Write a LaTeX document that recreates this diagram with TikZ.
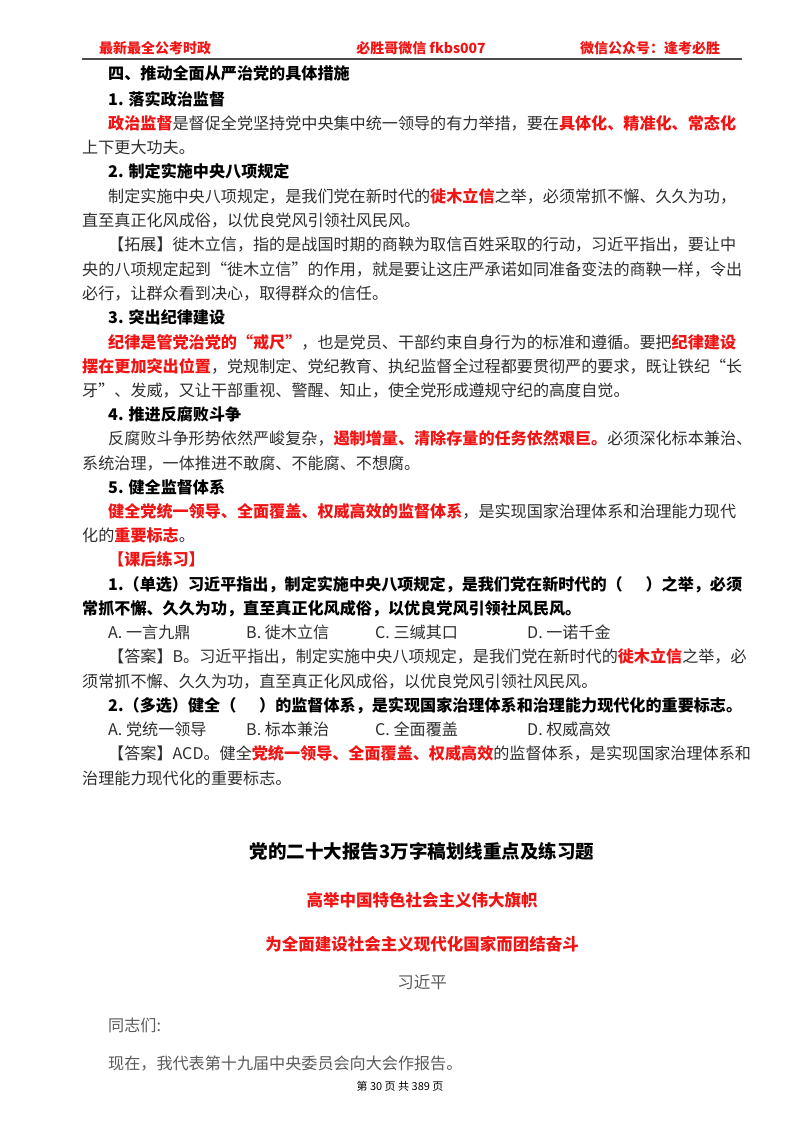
\documentclass[tikz,border=0pt]{standalone}
\usepackage{fontspec}
\setmainfont{Noto Sans CJK SC}
\XeTeXlinebreaklocale "zh"
\XeTeXlinebreakskip=0pt plus 6pt minus 0.3pt
\definecolor{rd}{RGB}{240,20,20}
\definecolor{bodyc}{RGB}{45,45,45}
\definecolor{lightc}{RGB}{90,90,90}
\newcount\nn
\newcommand\R[1]{{\color{rd}\bfseries #1}}
\newcommand\TL[3]{\global\advance\nn by 1 \node[txt] (t\the\nn) at (#1,-#2) {#3};}
\newcommand\TJ[4]{\global\advance\nn by 1 \node[txt] (t\the\nn) at (#1,-#2) {\hbox to #3pt{#4}};}
\begin{document}
\begin{tikzpicture}[x=1pt,y=1pt,
  txt/.style={anchor=base west,inner sep=0pt,font=\fontsize{16.1}{20}\selectfont,text=bodyc},
  ctr/.style={anchor=base,inner sep=0pt}]
\useasboundingbox (0,0) rectangle (800,-1132);
% header
\node[ctr,font=\fontsize{14}{16}\selectfont\bfseries,text=rd] (h1) at (155,-53) {最新最全公考时政};
\node[ctr,font=\fontsize{14}{16}\selectfont\bfseries,text=rd] (h2) at (421,-53) {必胜哥微信 fkbs007};
\node[ctr,font=\fontsize{14}{16}\selectfont\bfseries,text=rd] (h3) at (650,-53) {微信公众号：逢考必胜};
\coordinate (la) at (82,-59); \coordinate (lb) at (742,-59);
\draw[line width=1.2pt,black!70] (la) -- (lb);
% body
\TL{108}{80}{\bfseries\color{black}四、推动全面从严治党的具体措施}
\TL{108}{105}{\bfseries\color{black}1. 落实政治监督}
\TJ{108}{129}{634}{\R{政治监督}是督促全党坚持党中央集中统一领导的有力举措，要在\R{具体化、精准化、常态化}}
\TL{82}{153}{上下更大功夫。}
\TL{108}{177}{\bfseries\color{black}2. 制定实施中央八项规定}
\TJ{108}{202}{634}{制定实施中央八项规定，是我们党在新时代的\R{徙木立信}之举，必须常抓不懈、久久为功，}
\TL{82}{226}{直至真正化风成俗，以优良党风引领社风民风。}
\TJ{108}{250}{634}{【拓展】徙木立信，指的是战国时期的商鞅为取信百姓采取的行动，习近平指出，要让中}
\TJ{82}{275}{660}{央的八项规定起到“徙木立信”的作用，就是要让这庄严承诺如同准备变法的商鞅一样，令出}
\TL{82}{299}{必行，让群众看到决心，取得群众的信任。}
\TL{108}{323}{\bfseries\color{black}3. 突出纪律建设}
\TJ{108}{348}{634}{\R{纪律是管党治党的“戒尺”}，也是党员、干部约束自身行为的标准和遵循。要把\R{纪律建设}}
\TJ{82}{372}{660}{\R{摆在更加突出位置}，党规制定、党纪教育、执纪监督全过程都要贯彻严的要求，既让铁纪“长}
\TL{82}{396}{牙”、发威，又让干部重视、警醒、知止，使全党形成遵规守纪的高度自觉。}
\TL{108}{420}{\bfseries\color{black}4. 推进反腐败斗争}
\TJ{108}{444}{634}{反腐败斗争形势依然严峻复杂，\R{遏制增量、清除存量的任务依然艰巨。}必须深化标本兼治、}
\TL{82}{469}{系统治理，一体推进不敢腐、不能腐、不想腐。}
\TL{108}{493}{\bfseries\color{black}5. 健全监督体系}
\TJ{108}{517}{634}{\R{健全党统一领导、全面覆盖、权威高效的监督体系}，是实现国家治理体系和治理能力现代}
\TL{82}{541}{化的\R{重要标志}。}
\TL{108}{565}{\R{【课后练习】}}
\TJ{108}{590}{634}{\bfseries\color{black}1.（单选）习近平指出，制定实施中央八项规定，是我们党在新时代的（\quad\ ）之举，必须}
\TL{82}{614}{\bfseries\color{black}常抓不懈、久久为功，直至真正化风成俗，以优良党风引领社风民风。}
\TL{108}{638}{A. 一言九鼎}
\TL{246}{638}{B. 徙木立信}
\TL{375}{638}{C. 三缄其口}
\TL{527}{638}{D. 一诺千金}
\TJ{108}{662}{634}{【答案】B。习近平指出，制定实施中央八项规定，是我们党在新时代的\R{徙木立信}之举，必}
\TL{82}{687}{须常抓不懈、久久为功，直至真正化风成俗，以优良党风引领社风民风。}
\TJ{108}{711}{634}{\bfseries\color{black}2.（多选）健全（\quad\ ）的监督体系，是实现国家治理体系和治理能力现代化的重要标志。}
\TL{108}{735}{A. 党统一领导}
\TL{246}{735}{B. 标本兼治}
\TL{375}{735}{C. 全面覆盖}
\TL{527}{735}{D. 权威高效}
\TJ{108}{759}{634}{【答案】ACD。健全\R{党统一领导、全面覆盖、权威高效}的监督体系，是实现国家治理体系和}
\TL{82}{784}{治理能力现代化的重要标志。}
% second part
\node[ctr,font=\fontsize{18.5}{22}\selectfont\bfseries,text=black] (ttl) at (422,-858) {党的二十大报告3万字稿划线重点及练习题};
\node[ctr,font=\fontsize{16.5}{20}\selectfont\bfseries,text=rd] (s1) at (422,-906) {高举中国特色社会主义伟大旗帜};
\node[ctr,font=\fontsize{16.5}{20}\selectfont\bfseries,text=rd] (s2) at (422,-950) {为全面建设社会主义现代化国家而团结奋斗};
\node[ctr,font=\fontsize{16.5}{20}\selectfont,text=lightc] (au) at (422,-988) {习近平};
\node[txt,text=lightc] (g1) at (108,-1031) {同志们:};
\node[txt,text=lightc] (g2) at (108,-1069) {现在，我代表第十九届中央委员会向大会作报告。};
\node[ctr,font=\fontsize{11}{13}\selectfont,text=black] (ft) at (400,-1090) {第 30 页 共 389 页};
\end{tikzpicture}
\end{document}
